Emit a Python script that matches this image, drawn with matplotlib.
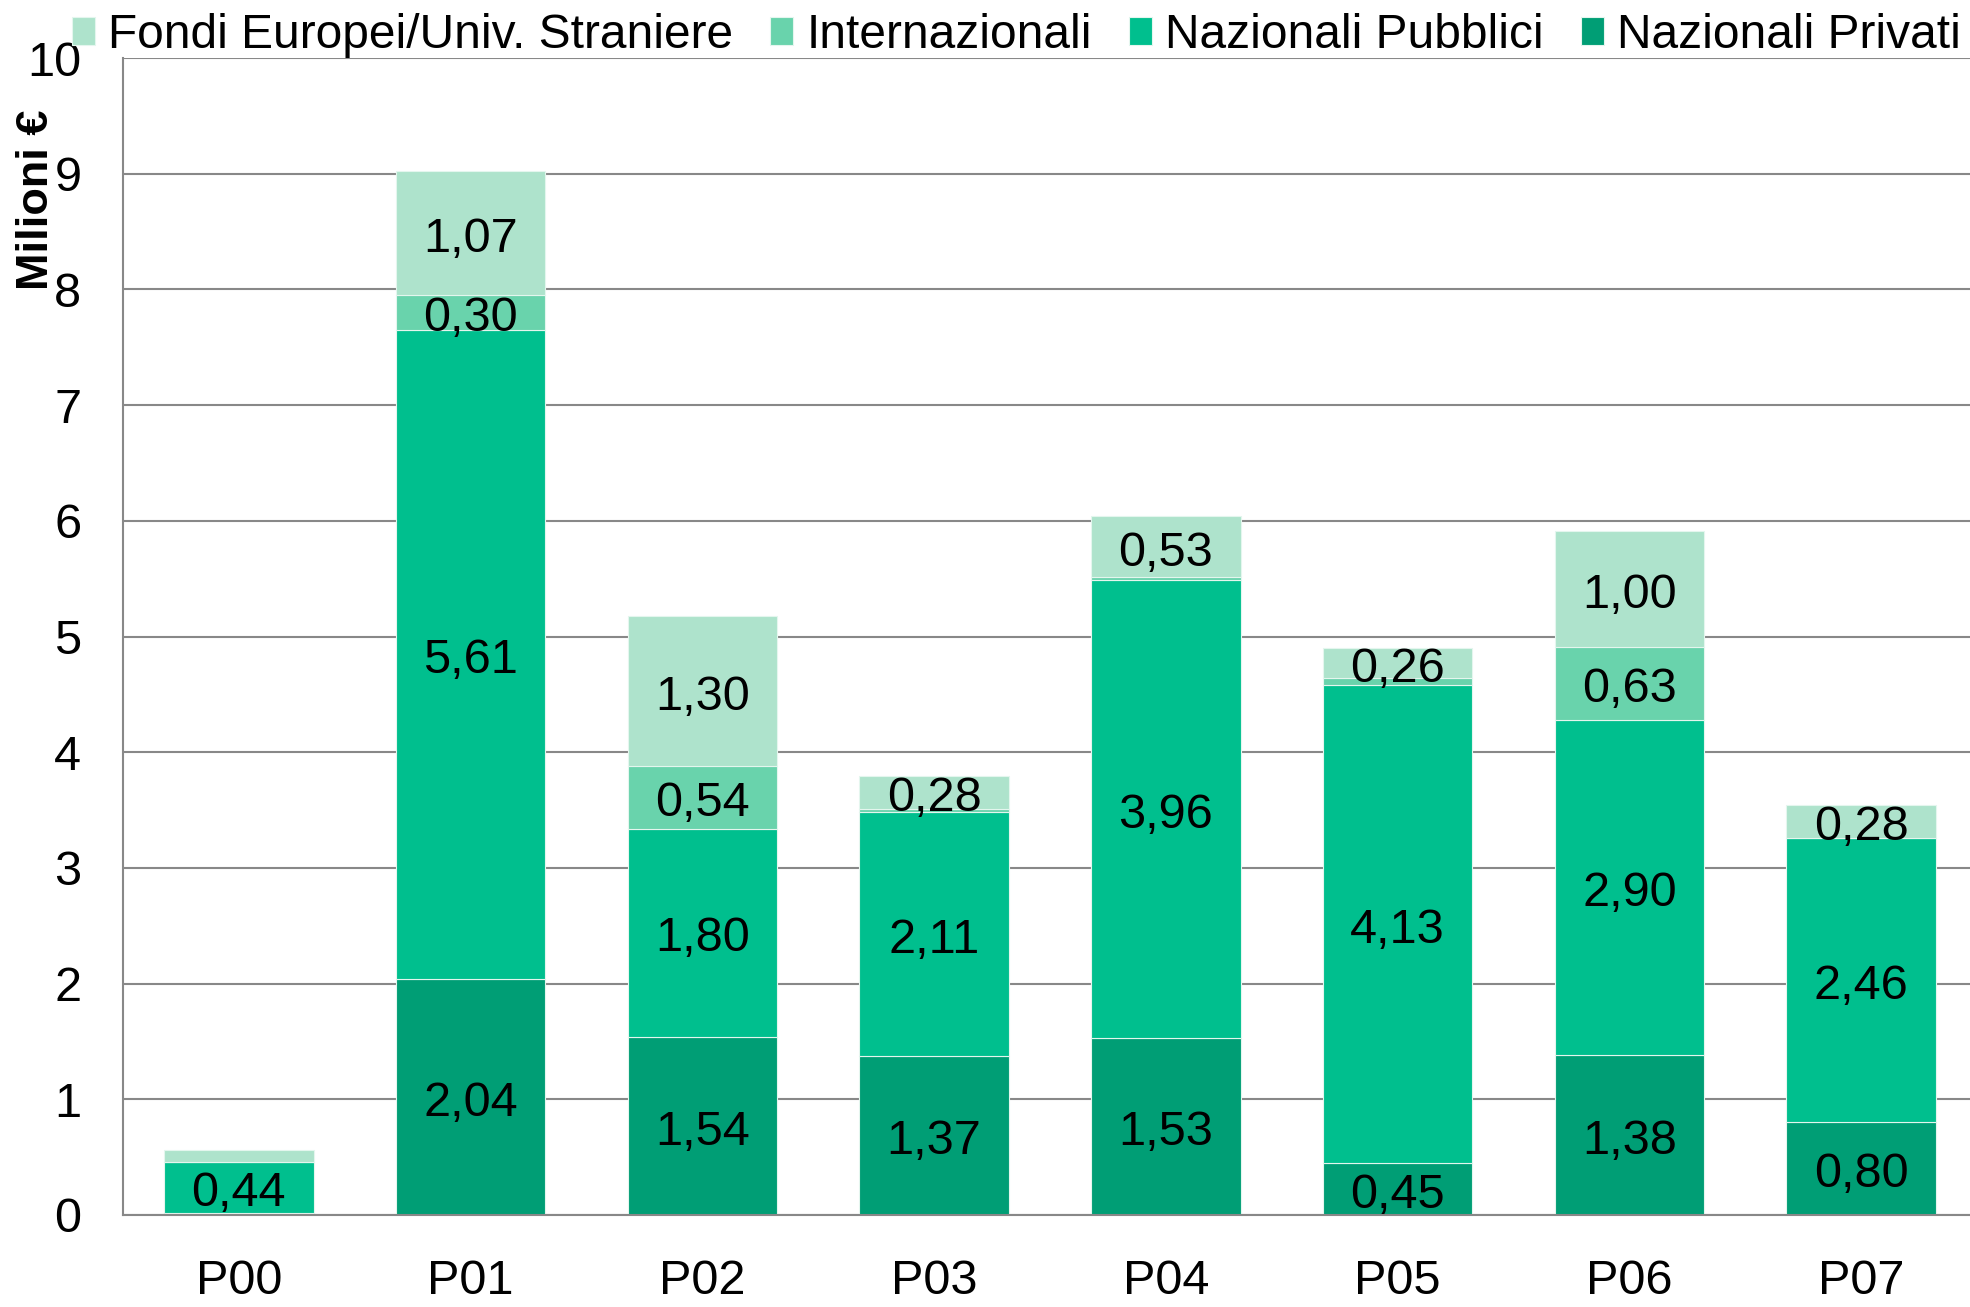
import matplotlib.pyplot as plt
import numpy as np

plt.rcParams["font.family"] = ["Liberation Sans", "DejaVu Sans"]

categories = ["P00", "P01", "P02", "P03", "P04", "P05", "P06", "P07"]
series_names = ["Nazionali Privati", "Nazionali Pubblici", "Internazionali",
                "Fondi Europei/Univ. Straniere"]
privati = [0.02, 2.04, 1.54, 1.37, 1.53, 0.45, 1.38, 0.80]
pubblici = [0.44, 5.61, 1.80, 2.11, 3.96, 4.13, 2.90, 2.46]
internazionali = [0.00, 0.30, 0.54, 0.03, 0.02, 0.06, 0.63, 0.00]
europei = [0.10, 1.07, 1.30, 0.28, 0.53, 0.26, 1.00, 0.28]
colors = ["#009e75", "#00bf8e", "#69d3ac", "#aee3cc"]
min_label = 0.2


def fmt(v):
    return f"{v:.2f}".replace(".", ",")


def main():
    fs = 35
    fig = plt.figure(figsize=(19.7, 13.07), dpi=100)
    ax = fig.add_axes([123 / 1970, 1 - 1215 / 1307, 1 - 123 / 1970, (1215 - 58) / 1307])

    x = np.arange(len(categories))
    bottom = np.zeros(len(categories))
    handles = []
    for name, vals, col in zip(series_names, [privati, pubblici, internazionali, europei], colors):
        vals = np.array(vals)
        bars = ax.bar(x, vals, 0.645, bottom=bottom, color=col, edgecolor="#e4f6ee",
                      linewidth=0.8, label=name, zorder=2)
        for xi, b, v in zip(x, bottom, vals):
            if v >= min_label:
                ax.annotate(fmt(v), (xi, b + v / 2), xytext=(0, -4.5),
                            textcoords="offset points", ha="center", va="center",
                            fontsize=fs, color="black", zorder=3)
        bottom += vals
        handles.append(bars)

    ax.set_xlim(-0.5, 7.47)
    ax.set_ylim(0, 10)
    ax.set_yticks(range(0, 11))
    ax.set_xticks(x)
    ax.set_xticklabels(categories)
    ax.tick_params(axis="both", length=0, labelsize=fs)
    ax.tick_params(axis="x", pad=32)
    ax.tick_params(axis="y", pad=30)
    ax.yaxis.grid(True, color="#888888", linewidth=1.5, zorder=0)
    ax.set_axisbelow(True)
    for s in ["top", "right"]:
        ax.spines[s].set_visible(False)
    for s in ["left", "bottom"]:
        ax.spines[s].set_color("#888888")
        ax.spines[s].set_linewidth(1.5)

    fig.text(37 / 1970, 1 - 200 / 1307, "Milioni €", rotation=90, fontsize=32.5,
             fontweight="bold", ha="center", va="center")

    fig.legend(handles[::-1], series_names[::-1], loc="upper left",
               bbox_to_anchor=(72 / 1970, 0.990), ncol=4, frameon=False, fontsize=34.5,
               handlelength=0.48, handleheight=0.52, handletextpad=0.27,
               columnspacing=0.78, borderpad=0, borderaxespad=0)

    fig.savefig("out.png", dpi=100)
    plt.close(fig)


if __name__ == "__main__":
    main()
